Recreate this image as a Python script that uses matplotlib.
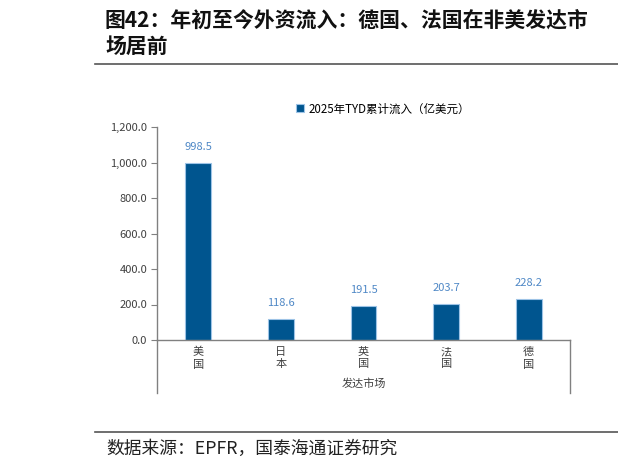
import matplotlib
matplotlib.use("Agg")
import matplotlib.pyplot as plt
from matplotlib.lines import Line2D

plt.rcParams['font.family'] = ['Noto Sans CJK SC', 'DejaVu Sans']

# data
markets = ["美国", "日本", "英国", "法国", "德国"]
inflows = [998.5, 118.6, 191.5, 203.7, 228.2]
series_name = "2025年TYD累计流入（亿美元）"
group_name = "发达市场"
title_lines = ["图42：年初至今外资流入：德国、法国在非美发达市", "场居前"]
source = "数据来源：EPFR，国泰海通证券研究"

bar_color = "#00558F"
label_color = "#4F88C6"
axis_color = "#808080"

W, H = 618, 469
fig = plt.figure(figsize=(W / 100, H / 100), dpi=100)

def fx(px):
    return px / W

def fy(py):
    return 1 - py / H

ax = fig.add_axes([fx(157), fy(340), fx(570) - fx(157), fy(127) - fy(340)])

x = range(len(markets))
bars = ax.bar(x, inflows, width=0.31, color=bar_color,
              edgecolor="#9DC3E6", linewidth=0.8, label=series_name)
for b, v in zip(bars, inflows):
    ax.annotate(f"{v:.1f}", (b.get_x() + b.get_width() / 2, v),
                xytext=(0, 8), textcoords="offset points",
                ha="center", va="bottom", fontsize=8, color=label_color)

ax.set_xlim(-0.5, len(markets) - 0.5)
ax.set_ylim(0, 1200)
ax.set_yticks(range(0, 1201, 200))
ax.set_yticklabels([f"{v:,.1f}" for v in range(0, 1201, 200)],
                   fontsize=8, color="#404040")
ax.set_xticks(list(x))
ax.set_xticklabels(["\n".join(m) for m in markets], fontsize=8,
                   color="#404040", linespacing=1.3)
ax.tick_params(axis="x", length=0, pad=5)
ax.tick_params(axis="y", length=4, width=0.8, color=axis_color, pad=3)

for s in ["top", "right"]:
    ax.spines[s].set_visible(False)
for s in ["left", "bottom"]:
    ax.spines[s].set_color(axis_color)
    ax.spines[s].set_linewidth(1.0)

# group separators under the category axis
for px in (157, 570):
    fig.add_artist(Line2D([fx(px), fx(px)], [fy(340), fy(393)],
                          color=axis_color, lw=1.0))
fig.text(fx(364), fy(384), group_name, ha="center", va="center",
         fontsize=8, color="#404040")

ax.legend(loc="center", bbox_to_anchor=(fx(383), fy(109)),
          bbox_transform=fig.transFigure, frameon=False, fontsize=8.3,
          handlelength=0.7, handleheight=0.7, handletextpad=0.4)

# title and footer
fig.text(fx(105), fy(20), title_lines[0], fontsize=15, fontweight="bold",
         va="center", ha="left", color="#111111")
fig.text(fx(105), fy(46), title_lines[1], fontsize=15, fontweight="bold",
         va="center", ha="left", color="#111111")
fig.add_artist(Line2D([fx(95), 1], [fy(64), fy(64)], color="#555555", lw=1.2))
fig.add_artist(Line2D([fx(95), 1], [fy(432), fy(432)], color="#555555", lw=1.2))
fig.text(fx(106), fy(449), source, fontsize=12.8, va="center", ha="left",
         color="#222222")

fig.savefig("out.png", dpi=100)
